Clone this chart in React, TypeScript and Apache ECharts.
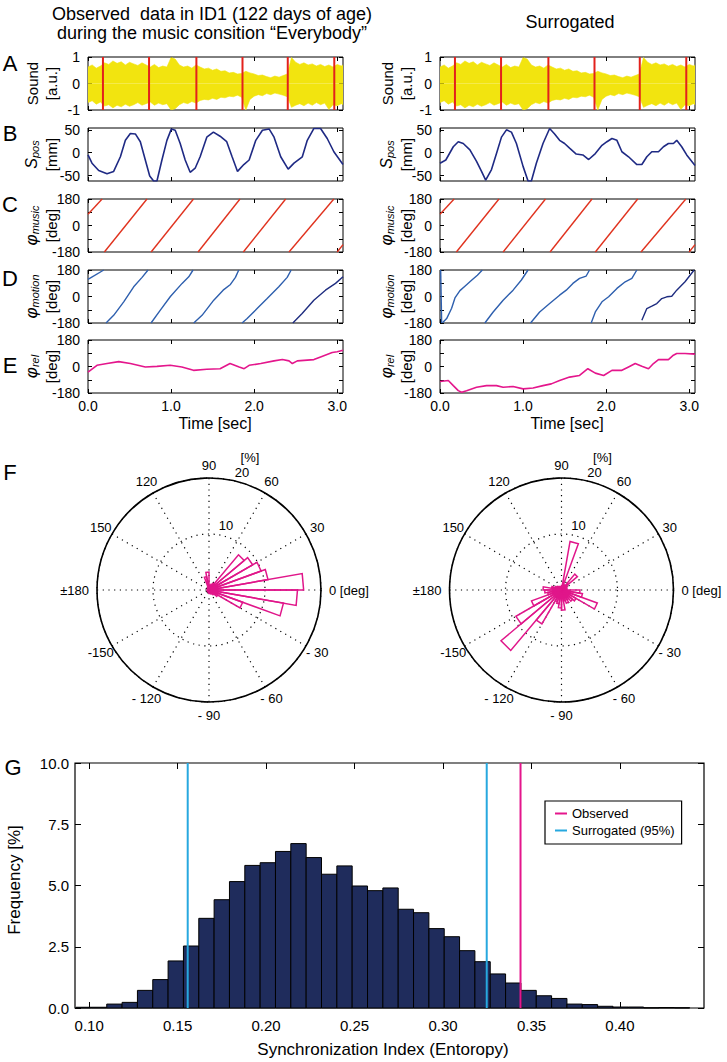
import React, { useEffect, useRef } from "react";
import * as echarts from "echarts";

const FONT = "'Liberation Sans', Arial, Helvetica, sans-serif";

// ---------------- time series panels ----------------
const timeTicks = [0, 1, 2, 3];
const timeMax = 3.07;
const beatTimes = [0.18, 0.735, 1.305, 1.86, 2.405, 2.965];

const soundUpper = [
  [0.0, 0.62], [0.05, 0.7], [0.1, 0.58], [0.15, 0.66], [0.2, 0.78], [0.25, 0.72], [0.3, 0.85], [0.35, 0.76],
  [0.4, 0.82], [0.45, 0.7], [0.5, 0.8], [0.55, 0.74], [0.6, 0.68], [0.65, 0.78], [0.7, 0.7], [0.75, 0.62],
  [0.8, 0.72], [0.85, 0.6], [0.9, 0.66], [0.95, 0.62], [1.0, 0.98], [1.05, 0.92], [1.1, 0.7], [1.15, 0.62],
  [1.2, 0.66], [1.25, 0.58], [1.3, 0.7], [1.35, 0.62], [1.4, 0.55], [1.45, 0.58], [1.5, 0.5], [1.55, 0.55],
  [1.6, 0.46], [1.65, 0.48], [1.7, 0.4], [1.75, 0.42], [1.8, 0.36], [1.85, 0.38], [1.9, 0.46], [1.95, 0.4],
  [2.0, 0.36], [2.05, 0.3], [2.1, 0.32], [2.15, 0.26], [2.2, 0.22], [2.25, 0.28], [2.3, 0.24], [2.35, 0.3],
  [2.4, 0.36], [2.45, 0.98], [2.5, 0.8], [2.55, 0.72], [2.6, 0.78], [2.65, 0.7], [2.7, 0.74], [2.75, 0.66],
  [2.8, 0.72], [2.85, 0.64], [2.9, 0.7], [2.95, 0.62], [3.0, 0.72], [3.05, 0.66], [3.07, 0.7],
];
const soundLower = [
  [0.0, -0.72], [0.05, -0.65], [0.1, -0.78], [0.15, -0.7], [0.2, -0.85], [0.25, -0.8], [0.3, -0.92], [0.35, -0.82],
  [0.4, -0.88], [0.45, -0.78], [0.5, -0.86], [0.55, -0.8], [0.6, -0.72], [0.65, -0.82], [0.7, -0.76], [0.75, -0.7],
  [0.8, -0.82], [0.85, -0.74], [0.9, -0.8], [0.95, -0.76], [1.0, -1.0], [1.05, -0.95], [1.1, -0.8], [1.15, -0.72],
  [1.2, -0.76], [1.25, -0.68], [1.3, -0.74], [1.35, -0.64], [1.4, -0.6], [1.45, -0.62], [1.5, -0.56], [1.55, -0.6],
  [1.6, -0.52], [1.65, -0.54], [1.7, -0.48], [1.75, -0.5], [1.8, -0.44], [1.85, -0.52], [1.9, -1.0], [1.95, -0.6],
  [2.0, -0.48], [2.05, -0.42], [2.1, -0.46], [2.15, -0.38], [2.2, -0.42], [2.25, -0.36], [2.3, -0.4], [2.35, -0.44],
  [2.4, -0.5], [2.45, -0.9], [2.5, -0.82], [2.55, -0.76], [2.6, -0.84], [2.65, -0.74], [2.7, -0.82], [2.75, -0.72],
  [2.8, -0.8], [2.85, -0.74], [2.9, -0.98], [2.95, -0.8], [3.0, -0.84], [3.05, -0.76], [3.07, -0.8],
];

const leftSpos = [
  [0, -5], [0.048, -23], [0.129, -39], [0.229, -46], [0.309, -41], [0.39, -9], [0.45, 27], [0.51, 42], [0.57, 41],
  [0.63, 24], [0.69, -16], [0.743, -51], [0.79, -62], [0.83, -62], [0.89, -16], [0.95, 27], [1.004, 52], [1.05, 49],
  [1.11, 20], [1.17, -16], [1.23, -43], [1.29, -34], [1.35, -9], [1.43, 34], [1.51, 45], [1.59, 36], [1.67, 24],
  [1.735, -9], [1.8, -41], [1.876, -26], [1.94, -16], [2.02, 27], [2.1, 49], [2.18, 52], [2.24, 34], [2.32, -9],
  [2.41, -36], [2.48, -23], [2.58, -9], [2.64, 27], [2.72, 53], [2.8, 53], [2.88, 31], [2.96, 2], [3.07, -26],
];
const rightSpos = [
  [0, -23], [0.07, -16], [0.16, 13], [0.22, 24], [0.28, 20], [0.36, 6], [0.44, -19], [0.5, -41], [0.55, -60],
  [0.62, -37], [0.68, -2], [0.74, 34], [0.8, 50], [0.86, 45], [0.92, 20], [1.0, -30], [1.06, -62], [1.1, -62],
  [1.16, -23], [1.24, 20], [1.32, 53], [1.38, 41], [1.44, 27], [1.5, 20], [1.56, 10], [1.64, -3], [1.72, -5],
  [1.79, -15], [1.87, -2], [1.95, 16], [2.01, 24], [2.07, 31], [2.13, 27], [2.19, 2], [2.27, -9], [2.37, -26],
  [2.43, -26], [2.49, -9], [2.55, 2], [2.63, 2], [2.69, 13], [2.75, 20], [2.81, 20], [2.85, 27], [2.91, 13],
  [2.97, -5], [3.07, -28],
];

const musicPhaseSegments = [
  [[0, 77], [0.17, 180]],
  [[0.197, -180], [0.71, 180]],
  [[0.76, -180], [1.27, 180]],
  [[1.325, -180], [1.83, 180]],
  [[1.87, -180], [2.38, 180]],
  [[2.42, -180], [2.96, 180]],
  [[3.0, -180], [3.07, -130]],
];

const leftMotionSegments = [
  [[0, 116], [0.19, 180]],
  [[0.217, -180], [0.309, -128], [0.43, -36], [0.55, 66], [0.651, 130], [0.723, 180]],
  [[0.759, -180], [0.871, -93], [0.992, 0], [1.133, 89], [1.213, 134], [1.265, 180]],
  [[1.273, -180], [1.373, -128], [1.514, -25], [1.627, 43], [1.715, 82], [1.775, 130], [1.815, 180]],
  [[1.855, -180], [1.916, -150], [2.036, -82], [2.157, -14], [2.297, 66], [2.398, 130], [2.446, 180]],
];
const leftMotionLast = [[2.466, -180], [2.578, -116], [2.719, -25], [2.859, 43], [2.98, 89], [3.07, 134]];

const rightMotionSegments = [
  [[0.008, 180], [0.02, -180]],
  [[0.03, -178], [0.08, -150], [0.14, -80], [0.18, -10], [0.24, 40], [0.3, 70], [0.38, 110], [0.45, 145], [0.51, 180]],
  [[0.54, -180], [0.64, -105], [0.76, -25], [0.88, 43], [0.98, 112], [1.06, 180]],
  [[1.09, -180], [1.2, -105], [1.32, -48], [1.44, 9], [1.52, 43], [1.6, 89], [1.68, 123], [1.76, 139], [1.8, 180]],
  [[1.82, -180], [1.87, -105], [1.95, -36], [2.03, -2], [2.13, 55], [2.23, 100], [2.31, 123], [2.37, 180]],
];
const rightMotionLast = [
  [2.43, -162], [2.49, -82], [2.55, -66], [2.61, -48], [2.67, -14], [2.73, -2], [2.79, 2], [2.85, 43], [2.95, 100], [3.06, 180],
];

const leftRel = [
  [0, -38], [0.108, 8], [0.229, 20], [0.37, 33], [0.51, 20], [0.69, -3], [0.83, 1], [0.99, 8], [1.13, -3],
  [1.27, -26], [1.43, -19], [1.59, -15], [1.71, 20], [1.82, -3], [1.88, -15], [1.94, 8], [2.08, 20], [2.24, 38],
  [2.34, 47], [2.42, 38], [2.46, 20], [2.52, 38], [2.72, 47], [2.8, 65], [2.94, 95], [3.0, 100], [3.07, 111],
];
const rightRel = [
  [0, -102], [0.1, -95], [0.16, -130], [0.22, -164], [0.26, -175], [0.32, -164], [0.44, -141], [0.56, -130],
  [0.68, -130], [0.76, -141], [0.88, -136], [1.0, -152], [1.12, -146], [1.24, -130], [1.34, -118], [1.44, -95],
  [1.56, -72], [1.68, -61], [1.78, -15], [1.87, -45], [1.97, -61], [2.07, -26], [2.19, -26], [2.27, -3],
  [2.35, 20], [2.43, 1], [2.51, -15], [2.57, 20], [2.63, 47], [2.75, 47], [2.81, 77], [2.85, 88], [2.95, 88], [3.07, 84],
];

// ---------------- rose plots (angle from, angle to, percent) ----------------
const leftRose = [
  [-180, -170, 0.3], [-170, -160, 0.2], [-160, -150, 0.3], [-150, -140, 0.2], [-140, -130, 0.3], [-130, -120, 0.3],
  [-120, -110, 0.3], [-110, -100, 0.4], [-100, -90, 0.4], [-90, -80, 0.6], [-80, -70, 0.5], [-70, -60, 0.7],
  [-60, -50, 0.8], [-50, -40, 1.1], [-40, -30, 1.8], [-30, -20, 6.4], [-20, -10, 13.5], [-10, 0, 15.8],
  [0, 10, 16.9], [10, 20, 10.7], [20, 30, 9.9], [30, 40, 9.0], [40, 50, 8.2], [50, 60, 1.4],
  [60, 70, 1.1], [70, 80, 0.9], [80, 90, 0.8], [90, 100, 3.2], [100, 110, 2.4], [110, 120, 0.5],
  [120, 130, 0.3], [130, 140, 0.3], [140, 150, 0.2], [150, 160, 0.2], [160, 170, 0.3], [170, 180, 0.2],
];
const rightRose = [
  [-180, -170, 3.0], [-170, -160, 2.5], [-160, -150, 5.7], [-150, -140, 9.4], [-140, -130, 14.1], [-130, -120, 7.0],
  [-120, -110, 2.2], [-110, -100, 2.5], [-100, -90, 3.2], [-90, -80, 3.6], [-80, -70, 2.0], [-70, -60, 2.5],
  [-60, -50, 2.0], [-50, -40, 2.6], [-40, -30, 3.0], [-30, -20, 6.8], [-20, -10, 3.8], [-10, 0, 3.3],
  [0, 10, 1.0], [10, 20, 0.8], [20, 30, 1.0], [30, 40, 1.2], [40, 50, 3.7], [50, 60, 1.0],
  [60, 70, 1.0], [70, 80, 8.8], [80, 90, 0.8], [90, 100, 0.6], [100, 110, 0.6], [110, 120, 0.6],
  [120, 130, 0.7], [130, 140, 0.8], [140, 150, 1.0], [150, 160, 1.2], [160, 170, 1.8], [170, 180, 3.3],
];
const roseMax = 20;
const angleLabels = [
  { a: 90, t: "90" }, { a: 60, t: "60" }, { a: 30, t: "30" }, { a: 0, t: "0 [deg]" },
  { a: -30, t: "- 30" }, { a: -60, t: "- 60" }, { a: -90, t: "- 90" }, { a: -120, t: "- 120" },
  { a: -150, t: "-150" }, { a: 180, t: "±180" }, { a: 150, t: "150" }, { a: 120, t: "120" },
];

// ---------------- histogram ----------------
const histStart = 0.0926;
const histWidth = 0.00867;
const histFreq = [
  0.03, 0.03, 0.16, 0.23, 0.72, 1.16, 1.92, 2.53, 3.66, 4.42, 5.16, 5.82, 5.93, 6.39, 6.71, 6.14, 5.46, 5.8,
  4.98, 4.79, 4.9, 4.03, 3.89, 3.24, 2.91, 2.34, 1.89, 1.39, 1.02, 0.72, 0.5, 0.39, 0.16, 0.14, 0.07, 0.04,
  0.04, 0.01, 0.02, 0.01,
];
const histXTicks = [0.1, 0.15, 0.2, 0.25, 0.3, 0.35, 0.4];
const surrogateBounds = [0.1557, 0.3247];
const observedIndex = 0.3438;

// ---------------- colors ----------------
const C_YELLOW = "#f2e40f";
const C_BEAT = "#e3211c";
const C_POS = "#1f2a84";
const C_MUSIC = "#e0321e";
const C_MOTION = "#2e5fae";
const C_MOTION_LAST = "#1f2d80";
const C_REL = "#e4168c";
const C_ROSE = "#e0168a";
const C_HIST = "#1f2c5c";
const C_CYAN = "#27a8df";

function text(x: number, y: number, t: string, size: number, extra: any = {}) {
  return {
    type: "text",
    x,
    y,
    silent: true,
    z: 100,
    rotation: extra.rotation || 0,
    style: {
      text: t,
      fill: "#000",
      fontSize: size,
      fontFamily: FONT,
      fontWeight: "normal",
      align: extra.align || "center",
      verticalAlign: "middle",
      textAlign: extra.align || "center",
      textVerticalAlign: "middle",
      rich: extra.rich,
    },
  };
}

function buildOption() {
  const grids: any[] = [];
  const xAxes: any[] = [];
  const yAxes: any[] = [];
  const series: any[] = [];
  const graphic: any[] = [];

  const rowTops = [57, 128, 199, 270, 340];
  const rowHeight = 53;
  const colLefts = [88, 440];
  const colWidth = 255;

  const rowY = [
    { min: -1, max: 1, interval: 1 },
    { min: -62, max: 54, custom: [-50, 0, 50] },
    { min: -180, max: 180, interval: 90, step: 180 },
    { min: -180, max: 180, interval: 90, step: 180 },
    { min: -180, max: 180, interval: 90, step: 180 },
  ];

  const lineSeries = (g: number, data: any, color: string, width = 1.5) => ({
    type: "line",
    xAxisIndex: 2 * g,
    yAxisIndex: 2 * g,
    data,
    symbol: "none",
    showSymbol: false,
    silent: true,
    animation: false,
    lineStyle: { color, width },
    itemStyle: { color },
    z: 3,
  });

  for (let c = 0; c < 2; c++) {
    for (let r = 0; r < 5; r++) {
      const g = c * 5 + r;
      grids.push({
        left: colLefts[c],
        top: rowTops[r],
        width: colWidth,
        height: rowHeight,
        show: true,
        borderColor: "#000",
        borderWidth: 1,
        backgroundColor: "transparent",
        containLabel: false,
      });
      for (const pos of ["bottom", "top"]) {
        xAxes.push({
          type: "value",
          gridIndex: g,
          position: pos,
          min: 0,
          max: timeMax,
          axisLine: { show: false, onZero: false },
          splitLine: { show: false },
          axisTick: { show: true, inside: true, length: 4, customValues: timeTicks, lineStyle: { color: "#000" } },
          axisLabel: {
            show: pos === "bottom" && r === 4,
            customValues: timeTicks,
            formatter: (v: number) => v.toFixed(1),
            fontSize: 14,
            color: "#000",
            fontFamily: FONT,
            margin: 6,
          },
        });
      }
      const ys = rowY[r];
      for (const pos of ["left", "right"]) {
        const ax: any = {
          type: "value",
          gridIndex: g,
          position: pos,
          min: ys.min,
          max: ys.max,
          axisLine: { show: false, onZero: false },
          splitLine: { show: false },
          axisTick: { show: true, inside: true, length: 4, lineStyle: { color: "#000" } },
          axisLabel: {
            show: pos === "left",
            fontSize: 14,
            color: "#000",
            fontFamily: FONT,
            margin: 8,
          },
        };
        if (ys.interval) ax.interval = ys.interval;
        if (ys.custom) {
          ax.axisTick.customValues = ys.custom;
          ax.axisLabel.customValues = ys.custom;
        }
        if (ys.step) {
          const st = ys.step;
          ax.axisLabel.formatter = (v: number) => (Math.abs(v) % st === 0 ? String(v) : "");
        }
        yAxes.push(ax);
      }
    }
  }

  // series per column
  for (let c = 0; c < 2; c++) {
    const g0 = c * 5;
    series.push({
      ...lineSeries(g0, soundUpper, C_YELLOW, 0.6),
      areaStyle: { color: C_YELLOW, opacity: 1 },
      z: 2,
    });
    series.push({
      ...lineSeries(g0, soundLower, C_YELLOW, 0.6),
      areaStyle: { color: C_YELLOW, opacity: 1 },
      z: 2,
    });
    beatTimes.forEach((t) => {
      series.push(lineSeries(g0, [[t, -1], [t, 1]], C_BEAT, 2));
    });
    series.push(lineSeries(g0 + 1, c === 0 ? leftSpos : rightSpos, C_POS, 1.6));
    musicPhaseSegments.forEach((seg) => series.push(lineSeries(g0 + 2, seg, C_MUSIC, 1.4)));
    (c === 0 ? leftMotionSegments : rightMotionSegments).forEach((seg) =>
      series.push(lineSeries(g0 + 3, seg, C_MOTION, 1.4))
    );
    series.push(lineSeries(g0 + 3, c === 0 ? leftMotionLast : rightMotionLast, C_MOTION_LAST, 1.4));
    series.push(lineSeries(g0 + 4, c === 0 ? leftRel : rightRel, C_REL, 1.6));
  }

  // ---------- histogram ----------
  const hg = 10;
  grids.push({
    left: 75,
    top: 763,
    width: 629,
    height: 245,
    show: true,
    borderColor: "#000",
    borderWidth: 1.2,
    backgroundColor: "transparent",
  });
  for (const pos of ["bottom", "top"]) {
    xAxes.push({
      type: "value",
      gridIndex: hg,
      position: pos,
      min: 0.092,
      max: 0.4475,
      axisLine: { show: false, onZero: false },
      splitLine: { show: false },
      axisTick: { show: true, inside: true, length: 6, customValues: histXTicks, lineStyle: { color: "#000" } },
      axisLabel: {
        show: pos === "bottom",
        customValues: histXTicks,
        formatter: (v: number) => v.toFixed(2),
        fontSize: 15,
        color: "#000",
        fontFamily: FONT,
        margin: 10,
      },
    });
  }
  for (const pos of ["left", "right"]) {
    yAxes.push({
      type: "value",
      gridIndex: hg,
      position: pos,
      min: 0,
      max: 10,
      interval: 2.5,
      axisLine: { show: false, onZero: false },
      splitLine: { show: false },
      axisTick: { show: true, inside: true, length: 6, lineStyle: { color: "#000" } },
      axisLabel: {
        show: pos === "left",
        formatter: (v: number) => v.toFixed(1),
        fontSize: 15,
        color: "#000",
        fontFamily: FONT,
        margin: 6,
      },
    });
  }
  series.push({
    type: "custom",
    xAxisIndex: 2 * hg,
    yAxisIndex: 2 * hg,
    silent: true,
    data: histFreq.map((f, i) => [histStart + i * histWidth, histStart + (i + 1) * histWidth, f]),
    encode: { x: [0, 1], y: 2 },
    renderItem: (params: any, api: any) => {
      const p0 = api.coord([api.value(0), api.value(2)]);
      const p1 = api.coord([api.value(1), 0]);
      return {
        type: "rect",
        shape: { x: p0[0], y: p0[1], width: p1[0] - p0[0], height: p1[1] - p0[1] },
        style: { fill: C_HIST, stroke: "#000", lineWidth: 1 },
      };
    },
    z: 2,
  });
  surrogateBounds.forEach((b) => {
    series.push({
      ...lineSeries(hg, [[b, 0], [b, 10]], C_CYAN, 2),
      name: "Surrogated (95%)",
      z: 5,
    });
  });
  series.push({
    ...lineSeries(hg, [[observedIndex, 0], [observedIndex, 10]], C_REL, 2),
    name: "Observed",
    z: 5,
  });

  // ---------- polar roses ----------
  const polarCenters = [
    [209, 590],
    [561.5, 590],
  ];
  const polars = polarCenters.map((cc) => ({ center: cc, radius: 112 }));
  const angleAxes = polarCenters.map((_, k) => ({
    polarIndex: k,
    type: "value",
    min: -180,
    max: 180,
    interval: 30,
    startAngle: 180,
    clockwise: false,
    axisLine: { show: true, lineStyle: { color: "#000", width: 1.6 } },
    axisTick: { show: false },
    axisLabel: { show: false },
    splitLine: { show: true, lineStyle: { color: "#000", width: 1.2, type: [1.2, 4.5] } },
  }));
  const radiusAxes = polarCenters.map((_, k) => ({
    polarIndex: k,
    type: "value",
    min: 0,
    max: roseMax,
    interval: 10,
    axisLine: { show: false },
    axisTick: { show: false },
    axisLabel: { show: false },
    splitLine: { show: true, lineStyle: { color: "#000", width: 1.2, type: [1.2, 4.5] } },
  }));
  [leftRose, rightRose].forEach((rose, k) => {
    series.push({
      type: "custom",
      coordinateSystem: "polar",
      polarIndex: k,
      silent: true,
      data: rose,
      encode: { angle: [0, 1], radius: 2 },
      renderItem: (params: any, api: any) => {
        const a0 = api.value(0);
        const a1 = api.value(1);
        const rv = api.value(2);
        const c0 = api.coord([0, a0]);
        const p0 = api.coord([rv, a0]);
        const p1 = api.coord([rv, a1]);
        return {
          type: "polygon",
          shape: { points: [c0, p0, p1] },
          style: { fill: "none", stroke: C_ROSE, lineWidth: 1.5 },
        };
      },
      z: 5,
    });
  });

  // ---------- texts ----------
  graphic.push(text(212, 14, "Observed  data in ID1 (122 days of age)", 18));
  graphic.push(text(212, 33, "during the music consition “Everybody”", 18));
  graphic.push(text(570, 22, "Surrogated", 18));

  const letters = [
    ["A", 10, 63], ["B", 10, 133], ["C", 10, 204], ["D", 10, 278], ["E", 10, 365], ["F", 10, 472], ["G", 13, 767],
  ];
  letters.forEach(([t, x, y]) => graphic.push(text(x as number, y as number, t as string, 22)));

  const richSub = (mainSize: number) => ({
    m: { fontSize: mainSize, fontStyle: "italic", fontWeight: "normal", fontFamily: FONT, fill: "#000", lineHeight: mainSize + 2, verticalAlign: "middle" },
    s: { fontSize: 11, fontStyle: "italic", fontWeight: "normal", fontFamily: FONT, fill: "#000", verticalAlign: "bottom", padding: [6, 0, 0, 0] },
  });
  const rowNames: any[] = [
    { l1: "Sound", l2: "[a.u.]" },
    { main: "S", sub: "pos", size: 16, l2: "[mm]" },
    { main: "φ", sub: "music", size: 17, l2: "[deg]" },
    { main: "φ", sub: "motion", size: 17, l2: "[deg]" },
    { main: "φ", sub: "rel", size: 17, l2: "[deg]" },
  ];
  for (let c = 0; c < 2; c++) {
    const dx = c === 0 ? 0 : 355;
    rowNames.forEach((rn, r) => {
      const cy = rowTops[r] + rowHeight / 2;
      if (rn.l1) {
        graphic.push(text(32 + dx, cy, rn.l1, 15, { rotation: Math.PI / 2 }));
      } else {
        graphic.push(
          text(31 + dx, cy, `{m|${rn.main}}{s|${rn.sub}}`, 15, {
            rotation: Math.PI / 2,
            rich: richSub(rn.size),
          })
        );
      }
      graphic.push(text(51 + dx, cy, rn.l2, 15, { rotation: Math.PI / 2 }));
    });
  }
  graphic.push(text(215, 423, "Time [sec]", 16));
  graphic.push(text(567, 423, "Time [sec]", 16));

  polarCenters.forEach(([cx, cy]) => {
    angleLabels.forEach(({ a, t }) => {
      if (a === 0) graphic.push(text(cx + 120, cy, t, 13, { align: "left" }));
      else if (a === 180) graphic.push(text(cx - 120, cy, t, 13, { align: "right" }));
      else {
        const rr = 125;
        const rad = (a * Math.PI) / 180;
        graphic.push(text(cx + rr * Math.cos(rad), cy - rr * Math.sin(rad), t, 13));
      }
    });
    graphic.push(text(cx + 17, cy - 65, "10", 13));
    graphic.push(text(cx + 33, cy - 118, "20", 13));
    graphic.push(text(cx + 41, cy - 133, "[%]", 13));
  });

  graphic.push(text(383, 1049, "Synchronization Index (Entoropy)", 17));
  graphic.push(text(14, 880, "Frequency [%]", 17, { rotation: Math.PI / 2 }));

  return {
    animation: false,
    backgroundColor: "#fff",
    textStyle: { fontFamily: FONT },
    grid: grids,
    xAxis: xAxes,
    yAxis: yAxes,
    polar: polars,
    angleAxis: angleAxes,
    radiusAxis: radiusAxes,
    legend: {
      data: ["Observed", "Surrogated (95%)"],
      left: 545,
      top: 801,
      orient: "vertical",
      icon: "rect",
      itemWidth: 12,
      itemHeight: 2,
      itemGap: 4,
      padding: [6, 7, 7, 10],
      backgroundColor: "#fff",
      borderColor: "#000",
      borderWidth: 1.2,
      textStyle: { fontSize: 13, color: "#000", fontFamily: FONT },
      selectedMode: false,
      z: 10,
    },
    series,
    graphic,
  };
}

export default function App() {
  const ref = useRef<HTMLDivElement>(null);
  useEffect(() => {
    if (!ref.current) return;
    const chart = echarts.init(ref.current, null, { renderer: "svg" });
    chart.setOption(buildOption() as any);
    return () => chart.dispose();
  }, []);
  return (
    <div
      ref={ref}
      style={{ position: "absolute", left: 0, top: 0, width: 727, height: 1062, background: "#fff" }}
    />
  );
}
